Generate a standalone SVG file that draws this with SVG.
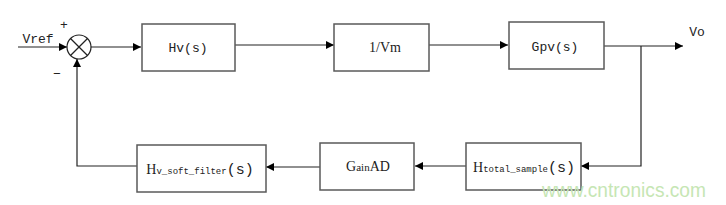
<svg xmlns="http://www.w3.org/2000/svg" width="726" height="205" viewBox="0 0 726 205">
<style>
.box{fill:#fff;stroke:#5a5a5a;stroke-width:1.5}
.ln{fill:none;stroke:#222;stroke-width:1.2}
.t{font-family:"Liberation Mono",monospace;font-size:13px;fill:#222;text-anchor:middle}
.s{font-family:"Liberation Serif",serif;font-size:14px;fill:#222;text-anchor:middle}
.sub{font-size:9px}
</style>
<defs>
<marker id="ah" viewBox="0 0 10 10" refX="10" refY="5" markerWidth="11" markerHeight="8" markerUnits="userSpaceOnUse" orient="auto">
<path d="M0,0 L10,5 L0,10 Z" fill="#000"/>
</marker>
</defs>
<rect width="726" height="205" fill="#fff"/>
<g id="connectors">
<line class="ln" x1="18" y1="47" x2="67" y2="47" marker-end="url(#ah)"/>
<line class="ln" x1="91" y1="47" x2="141" y2="47" marker-end="url(#ah)"/>
<line class="ln" x1="235" y1="45" x2="334" y2="45" marker-end="url(#ah)"/>
<line class="ln" x1="429" y1="45" x2="508" y2="45" marker-end="url(#ah)"/>
<line class="ln" x1="604" y1="46" x2="683" y2="46" marker-end="url(#ah)"/>
<polyline class="ln" points="641,46 641,166 581,166" marker-end="url(#ah)"/>
<line class="ln" x1="466" y1="166" x2="415" y2="166" marker-end="url(#ah)"/>
<line class="ln" x1="320" y1="167" x2="266" y2="167" marker-end="url(#ah)"/>
<polyline class="ln" points="137,166 77,166 77,59" marker-end="url(#ah)"/>
</g>
<g id="sum">
<circle cx="79" cy="47" r="12" fill="#fff" stroke="#222" stroke-width="1.2"/>
<line class="ln" x1="70.5" y1="38.5" x2="87.5" y2="55.5"/>
<line class="ln" x1="87.5" y1="38.5" x2="70.5" y2="55.5"/>
<text x="64" y="29" class="t" font-size="14">+</text>
<text x="57" y="78" class="t" font-size="14">−</text>
<text x="38" y="43" class="t">Vref</text>
</g>
<g id="hv"><rect class="box" x="142" y="24" width="93" height="47"/><text class="t" x="188" y="52">Hv(s)</text></g>
<g id="vm"><rect class="box" x="334" y="24" width="95" height="47"/><text class="s" x="385" y="52">1/Vm</text></g>
<g id="gpv"><rect class="box" x="509" y="22" width="95" height="47"/><text class="t" x="555" y="51">Gpv(s)</text></g>
<g id="vo"><text class="t" x="697" y="36">Vo</text></g>
<g id="htotal"><rect class="box" x="466" y="143" width="115" height="47"/><text class="s" x="524" y="172">H<tspan class="sub" font-family="Liberation Mono,monospace">total_sample</tspan><tspan font-family="Liberation Mono,monospace" font-size="15">(s)</tspan></text></g>
<g id="gainad"><rect class="box" x="320" y="143" width="94" height="47"/><text class="s" x="368" y="171">G<tspan font-size="11">ain</tspan>AD</text></g>
<g id="hsoft"><rect class="box" x="137" y="145" width="129" height="47"/><text class="s" x="200" y="174">H<tspan class="sub" font-family="Liberation Mono,monospace">v_soft_filter</tspan><tspan font-family="Liberation Mono,monospace" font-size="15">(s)</tspan></text></g>
<text x="542" y="197" font-family="Liberation Sans,Arial,sans-serif" font-size="21" textLength="164" lengthAdjust="spacingAndGlyphs" fill="#c6e6b4">www.cntronics.com</text>
</svg>
